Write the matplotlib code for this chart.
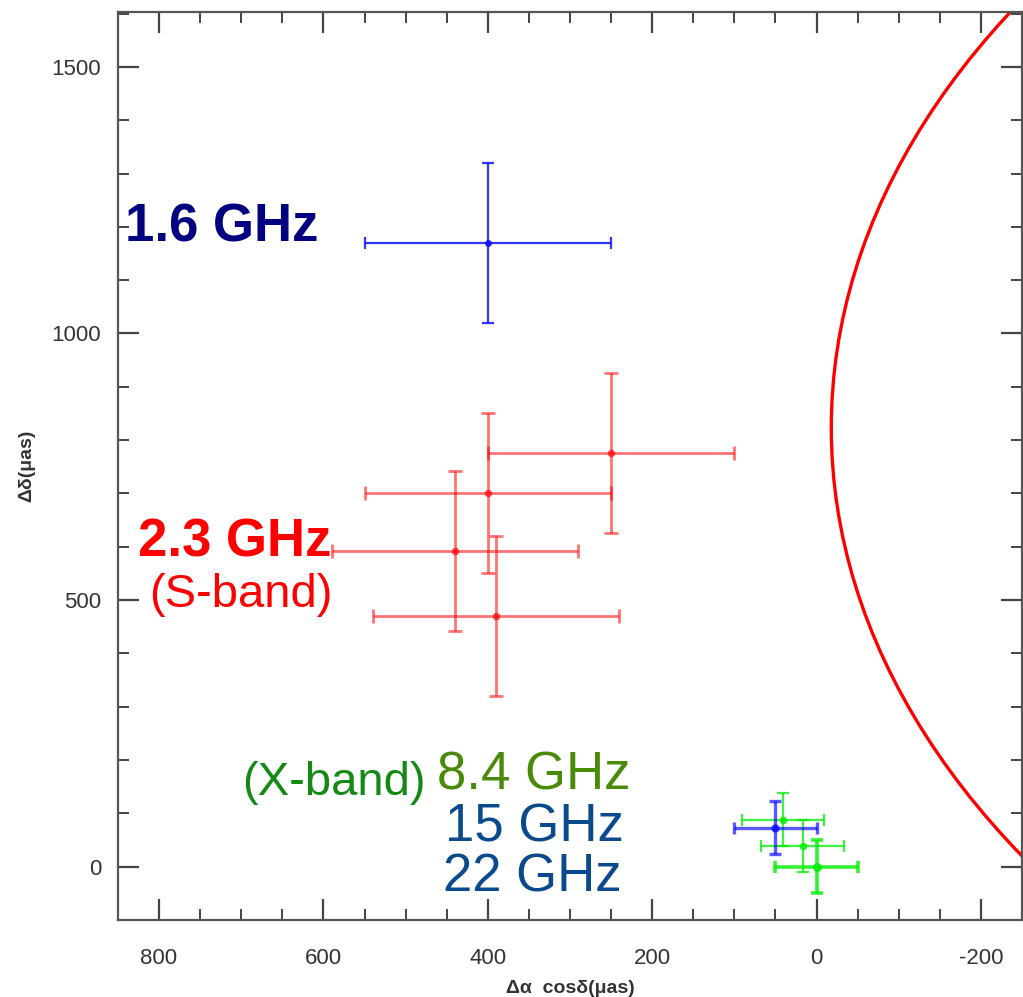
import numpy as np
import matplotlib
matplotlib.use("Agg")
import matplotlib.pyplot as plt
from matplotlib.patches import Circle
from matplotlib.ticker import MultipleLocator

plt.rcParams['font.family'] = ['Liberation Sans', 'DejaVu Sans']
plt.rcParams['axes.unicode_minus'] = False

# posizioni (micro-arcsec) e errori
x_16 = [400]
y_16 = [1170]
ex_16 = [150]
ey_16 = [150]

x_23 = [250, 400, 440, 390]
y_23 = [775, 700, 592, 470]
ex_23 = [150, 150, 150, 150]
ey_23 = [150, 150, 150, 150]

x_15 = [50]
y_15 = [73]
ex_15 = [50]
ey_15 = [50]

x_84 = [41, 17, 0]
y_84 = [88, 39, 0]
ex_84 = [50, 50, 50]
ey_84 = [50, 49, 50]

# arco rosso (cerchio in coordinate dati)
arc_center = (-1523, 823)
arc_radius = 1505

fig = plt.figure(figsize=(10.23, 9.97), dpi=100)
ax = fig.add_axes([0.1153, 0.0772, 0.8837, 0.9108])

ax.errorbar(x_16, y_16, xerr=ex_16, yerr=ey_16, fmt='o', color='#1010ff',
            ms=4, elinewidth=1.6, capsize=4, capthick=1.6, alpha=0.85)
ax.errorbar(x_23, y_23, xerr=ex_23, yerr=ey_23, fmt='o', color='red',
            ms=4.5, elinewidth=2.0, capsize=5, capthick=2.0, alpha=0.55)
ax.errorbar(x_84[:2], y_84[:2], xerr=ex_84[:2], yerr=ey_84[:2], fmt='o', color='#00ee00',
            ms=4.5, elinewidth=1.6, capsize=4, capthick=1.6, alpha=0.75)
ax.errorbar(x_15, y_15, xerr=ex_15, yerr=ey_15, fmt='o', color='#0000ff',
            ms=5, elinewidth=2.4, capsize=4, capthick=2.4, alpha=0.65)
ax.errorbar(x_84[2:], y_84[2:], xerr=ex_84[2:], yerr=ey_84[2:], fmt='o', color='#00ee00',
            ms=5.5, elinewidth=2.6, capsize=4, capthick=2.6, alpha=0.8)

ax.add_patch(Circle(arc_center, arc_radius, fill=False, ec='red', lw=2.4, clip_on=True))

ax.set_xlim(850, -250)
ax.set_ylim(-100, 1603)

ax.xaxis.set_major_locator(MultipleLocator(200))
ax.xaxis.set_minor_locator(MultipleLocator(50))
ax.yaxis.set_major_locator(MultipleLocator(500))
ax.yaxis.set_minor_locator(MultipleLocator(100))
ax.tick_params(which='both', direction='in', top=True, right=True,
               color='#444444', labelcolor='#333333', labelsize=16)
ax.tick_params(axis='x', pad=20)
ax.tick_params(axis='y', pad=12)
ax.tick_params(which='major', length=15, width=1.6)
ax.tick_params(which='minor', length=8, width=1.4)
for sp in ax.spines.values():
    sp.set_linewidth(1.6)
    sp.set_color('#555555')

ax.set_xlabel('Δα  cosδ(μas)', fontsize=14, fontweight='bold', color='#333333', labelpad=8)
ax.set_ylabel('Δδ(μas)', fontsize=14, fontweight='bold', color='#333333', labelpad=12)

# etichette delle bande
ax.text(841, 1172, '1.6 GHz', color='#000080', fontsize=38, fontweight='bold', ha='left', va='baseline')
ax.text(825, 581, '2.3 GHz', color='red', fontsize=38, fontweight='bold', ha='left', va='baseline')
ax.text(812, 488, '(S-band)', color='red', fontsize=34, ha='left', va='baseline')
ax.text(699, 135, '(X-band)', color='#138a13', fontsize=34, ha='left', va='baseline')
ax.text(462, 144, '8.4 GHz', color='#4a8a0a', fontsize=38, ha='left', va='baseline')
ax.text(452, 47, '15 GHz', color='#0a4a8c', fontsize=38, ha='left', va='baseline')
ax.text(454, -46, '22 GHz', color='#0a4a8c', fontsize=38, ha='left', va='baseline')

fig.savefig('out.png', dpi=100)
